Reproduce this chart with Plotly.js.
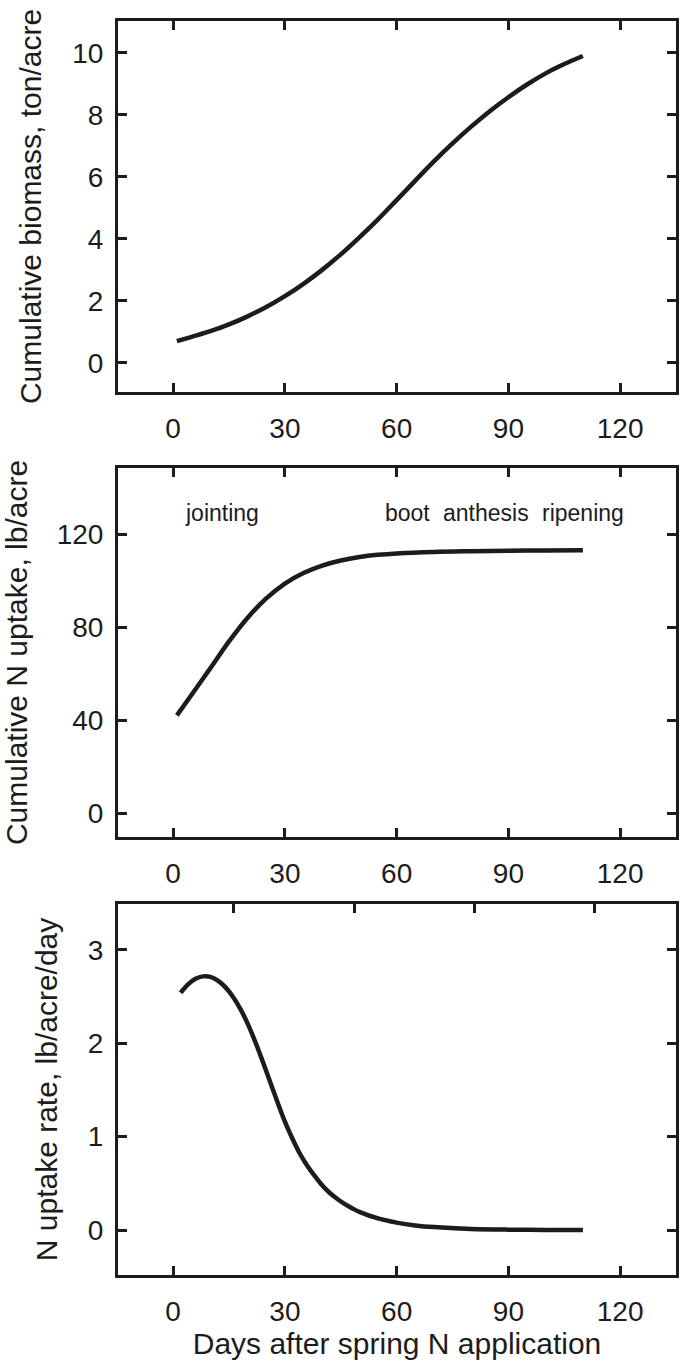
<!DOCTYPE html>
<html>
<head>
<meta charset="utf-8">
<script src="https://cdn.plot.ly/plotly-3.0.1.min.js"></script>
<style>html,body{margin:0;padding:0;background:#fff;}#chart{width:681px;height:1362px;}</style>
</head>
<body>
<div id="chart"></div>
<script>
// Days after spring N application
const biomassDays = [1, 5, 10, 15, 20, 25, 30, 35, 40, 45, 50, 55, 60, 65, 70, 75, 80, 85, 90, 95, 100, 105, 110];
const biomassTon  = [0.7, 0.84, 1.02, 1.24, 1.5, 1.8, 2.15, 2.55, 3.0, 3.5, 4.05, 4.63, 5.25, 5.88, 6.5, 7.08, 7.62, 8.12, 8.57, 8.98, 9.34, 9.64, 9.9];

const uptakeDays = [1, 5, 10, 15, 20, 25, 30, 35, 40, 45, 50, 55, 60, 70, 80, 90, 100, 110];
const uptakeLb   = [42, 51, 62.3, 73.8, 84.0, 92.3, 98.7, 103.2, 106.4, 108.6, 110.1, 111.05, 111.65, 112.3, 112.6, 112.8, 112.9, 113];

const rateDays = [2, 4, 6, 8, 10, 12, 14, 16, 18, 20, 22, 24, 26, 28, 30, 32, 34, 36, 38, 40, 42, 44, 46, 48, 50, 55, 60, 65, 70, 80, 90, 100, 110];
const rateLb   = [2.54, 2.63, 2.69, 2.715, 2.71, 2.67, 2.6, 2.5, 2.37, 2.21, 2.02, 1.81, 1.59, 1.37, 1.16, 0.98, 0.82, 0.69, 0.58, 0.48, 0.40, 0.335, 0.28, 0.235, 0.195, 0.125, 0.08, 0.05, 0.032, 0.013, 0.005, 0.002, 0.0];

const xTicks = [0, 30, 60, 90, 120];
const biomassTicks = [0, 2, 4, 6, 8, 10];
const uptakeTicks = [0, 40, 80, 120];
const rateTicks = [0, 1, 2, 3];
const rateTopTicks = [16.3, 48.8, 80.9, 113.2];

const stageLabels = ["jointing", "boot", "anthesis", "ripening"];
const stageDays   = [13, 63, 84, 110];
const stageY      = 129;

const yTitles = ["Cumulative biomass, ton/acre", "Cumulative N uptake, lb/acre", "N uptake rate, lb/acre/day"];
const xTitle = "Days after spring N application";

const FONT = "Liberation Sans, Arial, sans-serif";
const INK = "#1c1c1c";
const xr = [-14.8, 135];
const xdom = [0.1733, 0.9927];

const lineStyle = {color: INK, width: 4.5, shape: "spline", smoothing: 1};

const traces = [
  {x: biomassDays, y: biomassTon, xaxis: "x", yaxis: "y", mode: "lines", line: lineStyle, hoverinfo: "x+y"},
  {x: uptakeDays, y: uptakeLb, xaxis: "x2", yaxis: "y2", mode: "lines", line: lineStyle, hoverinfo: "x+y"},
  {x: rateDays, y: rateLb, xaxis: "x3", yaxis: "y3", mode: "lines", line: lineStyle, hoverinfo: "x+y"},
  {x: [null], y: [null], xaxis: "x4", yaxis: "y3", mode: "lines", line: {color: "rgba(0,0,0,0)"}, hoverinfo: "skip"}
];

function xAxis(anchor, mirror, withTitle) {
  const a = {
    domain: xdom, range: xr, anchor: anchor,
    tickmode: "array", tickvals: xTicks, ticktext: xTicks.map(String),
    ticks: "inside", ticklen: 9, tickwidth: 3, tickcolor: INK,
    showline: true, linewidth: 3, linecolor: INK, mirror: mirror,
    showgrid: false, zeroline: false,
    tickfont: {family: FONT, size: 28, color: INK},
    ticklabelstandoff: 9
  };
  if (withTitle) {
    a.title = {text: xTitle, font: {family: FONT, size: 30, color: INK}, standoff: 4};
  }
  return a;
}
function yAxis(anchor, dom, range, ticks, title) {
  return {
    domain: dom, range: range, anchor: anchor,
    tickmode: "array", tickvals: ticks, ticktext: ticks.map(String),
    ticks: "inside", ticklen: 9, tickwidth: 3, tickcolor: INK,
    showline: true, linewidth: 3, linecolor: INK, mirror: "ticks",
    showgrid: false, zeroline: false,
    tickfont: {family: FONT, size: 28, color: INK},
    ticklabelstandoff: 6,
    title: {text: title, font: {family: FONT, size: 30, color: INK}, standoff: 22}
  };
}

const annotations = stageLabels.map((t, i) => ({
  text: t, x: stageDays[i], y: stageY, xref: "x2", yref: "y2",
  showarrow: false, font: {family: FONT, size: 23, color: INK}
}));

const layout = {
  width: 681, height: 1362,
  margin: {l: 0, r: 0, t: 0, b: 0},
  paper_bgcolor: "#fff", plot_bgcolor: "#fff",
  showlegend: false,
  xaxis: xAxis("y", "ticks", false),
  yaxis: yAxis("x", [0.7122, 0.9846], [-0.94, 11.03], biomassTicks, yTitles[0]),
  xaxis2: xAxis("y2", "ticks", false),
  yaxis2: yAxis("x2", [0.3855, 0.6564], [-10.3, 148.4], uptakeTicks, yTitles[1]),
  xaxis3: xAxis("y3", true, true),
  yaxis3: yAxis("x3", [0.0639, 0.3363], [-0.48, 3.49], rateTicks, yTitles[2]),
  xaxis4: {
    domain: xdom, range: xr, anchor: "y3", overlaying: "x3", side: "top",
    tickmode: "array", tickvals: rateTopTicks, showticklabels: false,
    ticks: "inside", ticklen: 9, tickwidth: 3, tickcolor: INK,
    showline: false, showgrid: false, zeroline: false
  },
  annotations: annotations
};

Plotly.newPlot("chart", traces, layout, {staticPlot: true, displayModeBar: false});
</script>
</body>
</html>
